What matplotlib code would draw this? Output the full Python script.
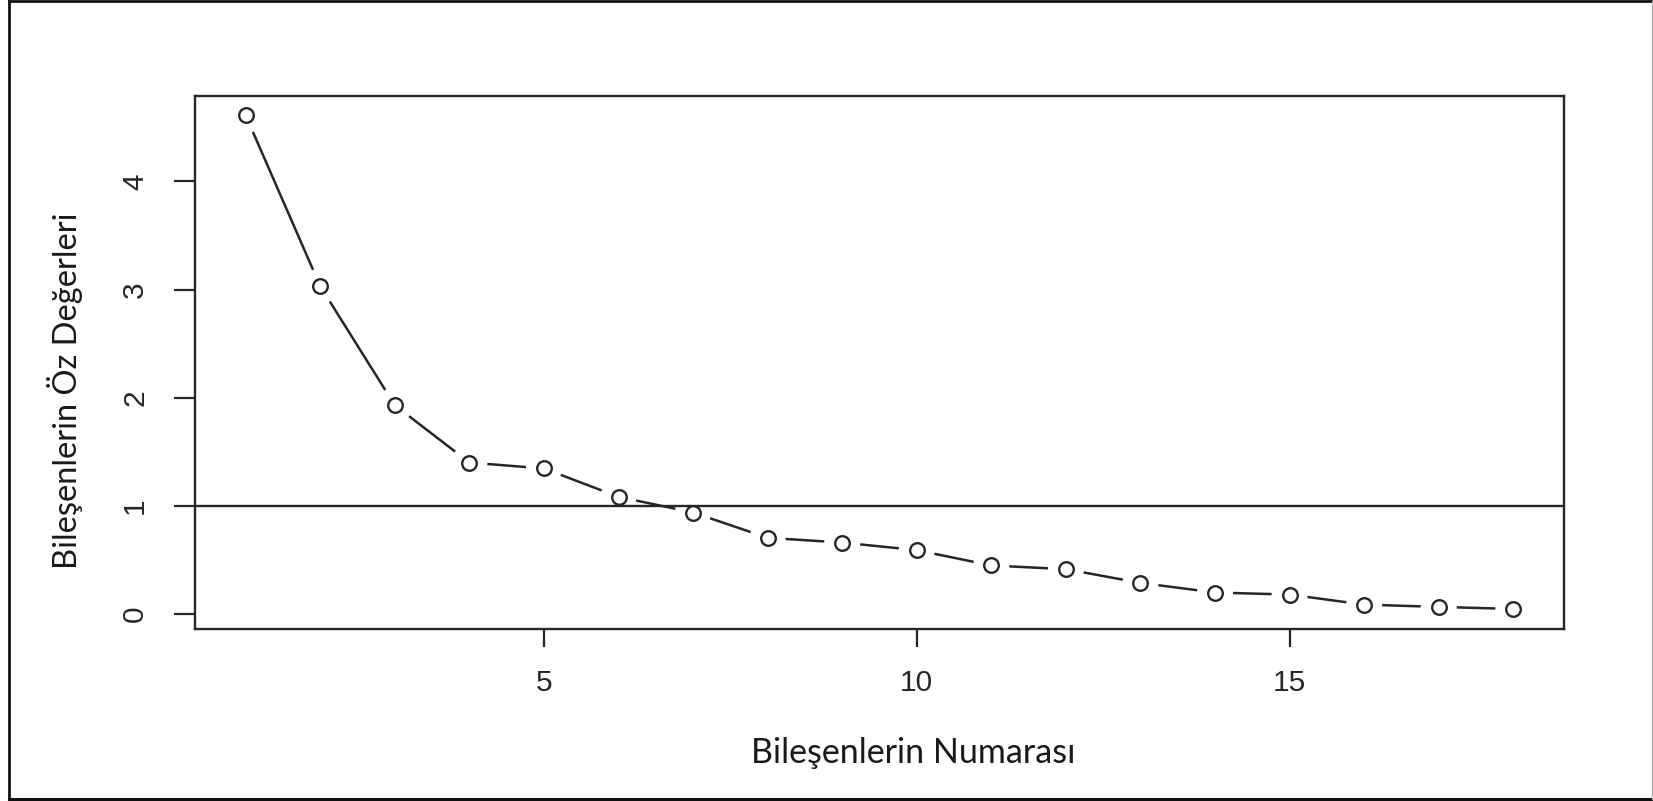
import numpy as np
import matplotlib.pyplot as plt
from matplotlib.collections import LineCollection
from matplotlib.lines import Line2D

# eigenvalues of the principal components (scree plot)
components = np.arange(1, 19)
eigenvalues = [4.61, 3.03, 1.93, 1.40, 1.345, 1.083, 0.938, 0.704, 0.660,
               0.590, 0.448, 0.414, 0.287, 0.198, 0.179, 0.086, 0.065, 0.046]
x_ticks = [5, 10, 15]
y_ticks = [0, 1, 2, 3, 4]
x_label = "Bileşenlerin Numarası"
y_label = "Bileşenlerin Öz Değerleri"
cutoff = 1

W, H = 1653, 801
ink = "#262626"

fig = plt.figure(figsize=(W / 100, H / 100), dpi=100)
ax = fig.add_axes([195 / W, 1 - 628.7 / H, (1564 - 195) / W, (628.7 - 95.7) / H])

# R style axis ranges (4% padding)
xr = components.max() - components.min()
ax.set_xlim(components.min() - 0.04 * xr, components.max() + 0.04 * xr)
yr = max(eigenvalues) - min(eigenvalues)
ax.set_ylim(min(eigenvalues) - 0.04 * yr, max(eigenvalues) + 0.04 * yr)

# type="b": segments that stop short of each point
gap = 18
pts = ax.transData.transform(np.column_stack([components, eigenvalues]))
inv = ax.transData.inverted()
segs = []
for p0, p1 in zip(pts[:-1], pts[1:]):
    d = p1 - p0
    L = np.hypot(*d)
    if L > 2 * gap:
        u = d / L
        segs.append(inv.transform(np.array([p0 + u * gap, p1 - u * gap])))
ax.add_collection(LineCollection(segs, colors=ink, linewidths=1.8))

ax.plot(components, eigenvalues, ls="none", marker="o", ms=10.5, mfc="white",
        mec=ink, mew=1.7, zorder=3)
ax.axhline(cutoff, color=ink, lw=1.7)

for s in ax.spines.values():
    s.set_color(ink)
    s.set_linewidth(1.7)

ax.set_xticks(x_ticks)
ax.set_yticks(y_ticks)
ax.tick_params(axis="x", length=13, width=1.6, color=ink, pad=16,
               labelsize=21.5, labelcolor=ink)
ax.tick_params(axis="y", length=15, width=1.6, color=ink, pad=18,
               labelsize=21.5, labelcolor=ink, labelrotation=90)
for lbl in ax.get_xticklabels() + ax.get_yticklabels():
    lbl.set_fontfamily("Liberation Sans")
for lbl in ax.get_yticklabels():
    lbl.set_va("center")

fig.text(913 / W, 1 - 753 / H, x_label, ha="center", va="center",
         fontsize=24.5, family="Lato", color="#1a1a1a")
fig.text(65 / W, 1 - 391 / H, y_label, ha="center", va="center",
         rotation=90, fontsize=23.5, family="Lato", color="#1a1a1a")

# frame around the whole image
fig.add_artist(Line2D([8.7 / W, 8.7 / W], [1 - 1 / H, 1 - 798.5 / H],
                      transform=fig.transFigure, color="#111", lw=2))
fig.add_artist(Line2D([8.7 / W, 1651.5 / W], [1 - 1 / H, 1 - 1 / H],
                      transform=fig.transFigure, color="#111", lw=2))
fig.add_artist(Line2D([8.7 / W, 1651.5 / W], [1 - 798.5 / H, 1 - 798.5 / H],
                      transform=fig.transFigure, color="#111", lw=2.2))
fig.add_artist(Line2D([1651.5 / W, 1651.5 / W], [1 - 1 / H, 1 - 798.5 / H],
                      transform=fig.transFigure, color="#aaaaaa", lw=1))

fig.savefig("out.png", dpi=100)
